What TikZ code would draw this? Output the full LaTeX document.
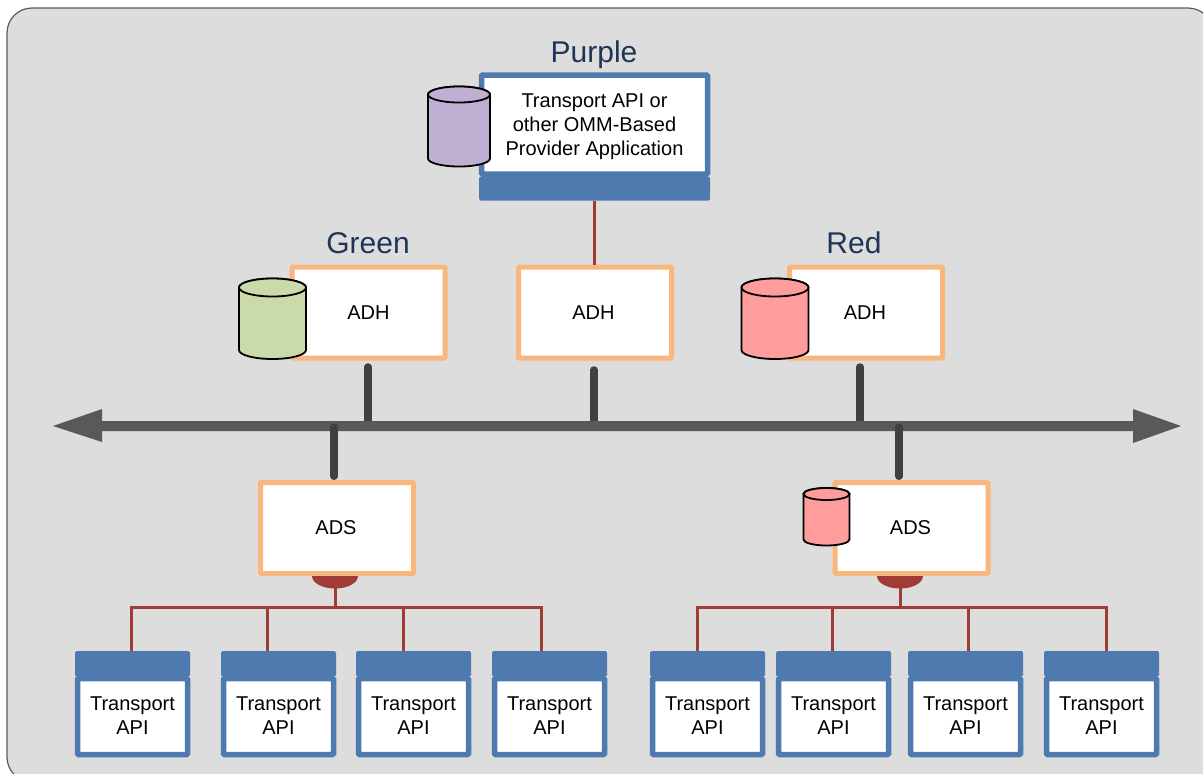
\documentclass[tikz,border=0pt]{standalone}
\usepackage{fontspec}
\setmainfont{Liberation Sans}
\definecolor{panelgray}{HTML}{DDDDDD}
\definecolor{panelline}{HTML}{5A5A5A}
\definecolor{busgray}{HTML}{595959}
\definecolor{stemgray}{HTML}{404040}
\definecolor{linkred}{HTML}{A03C35}
\definecolor{frameblue}{HTML}{4F7AAF}
\definecolor{frameorange}{HTML}{F8B77C}
\definecolor{titleblue}{HTML}{1F3558}
\definecolor{dbpurple}{HTML}{BFB0D3}
\definecolor{dbgreen}{HTML}{CBDAAB}
\definecolor{dbred}{HTML}{FF9C9C}
\tikzset{
  orangebox/.style={draw=frameorange,fill=white,line width=5pt,rounded corners=1pt,minimum width=153pt,minimum height=91pt,inner sep=0,font=\fontsize{20}{24}\selectfont},
  bluebox/.style={draw=frameblue,fill=white,line width=5.5pt,rounded corners=1pt,inner sep=0,align=center,font=\fontsize{20}{24}\selectfont},
  bluebar/.style={fill=frameblue,rounded corners=1.5pt,inner sep=0},
  title/.style={text=titleblue,font=\fontsize{30}{34}\selectfont,inner sep=0,anchor=base},
  dbcan/.style={draw=black,line width=1.8pt},
  stem/.style={draw=stemgray,line width=7.5pt,line cap=round},
  link/.style={draw=linkred,line width=3pt},
  apibox/.style={bluebox,minimum width=110pt,minimum height=76pt},
  apibar/.style={bluebar,minimum width=115pt,minimum height=25.5pt},
}
\begin{document}
\begin{tikzpicture}[x=1pt,y=-1pt]
\useasboundingbox (0,0) rectangle (1203,774);
\draw[fill=panelgray,draw=panelline,line width=1.2pt,rounded corners=25pt] (7,8) rectangle (1213,782);
\coordinate (busa) at (368,426);
\coordinate (busb) at (594,426);
\coordinate (busc) at (860,426);
\coordinate (busd) at (334,427);
\coordinate (buse) at (899,427);
% stems above the bus
\draw[stem] (busa |- 0,367) -- (busa);
\draw[stem] (busb |- 0,370) -- (busb);
\draw[stem] (busc |- 0,367) -- (busc);
% bus
\fill[busgray] (53,426) -- (102,409) -- (102,421) -- (1133,421) -- (1133,409) -- (1181,426) -- (1133,443) -- (1133,431) -- (102,431) -- (102,442) -- cycle;
% providers
\node[title] (purple) at (594,62) {Purple};
\node[title] (green) at (368,253) {Green};
\node[title] (red) at (854,253) {Red};
\node[bluebar,minimum width=231pt,minimum height=24pt] (purplebar) at (594.5,188.5) {};
\node[bluebox,minimum width=226pt,minimum height=99pt] (provider) at (594.5,124.5) {\rule{0pt}{18pt}Transport API or\\other OMM-Based\\Provider Application};
\node[orangebox] (adha) at (368.5,312.5) {ADH};
\node[orangebox] (adhb) at (595,312.5) {ADH\kern3pt};
\node[orangebox] (adhc) at (866,312.5) {ADH\kern2pt};
\node[orangebox] (adsa) at (337,528) {ADS\kern2pt};
\node[orangebox] (adsb) at (911.5,528) {ADS\kern2pt};
% databases
\foreach \lx/\rad/\ty/\by/\ry/\col in {428/31/94.5/158.5/8/dbpurple,239/33.5/287.5/350/9/dbgreen,741.5/33.5/287.5/350/9/dbred,803.5/23/494/539.5/6/dbred}{
  \draw[dbcan,fill=\col] (\lx,\ty) -- (\lx,\by) arc[start angle=180,end angle=360,x radius=\rad,y radius=-\ry] -- (\lx+2*\rad,\ty) arc[start angle=0,end angle=180,x radius=\rad,y radius=-\ry] -- cycle;
  \draw[dbcan,fill=\col] (\lx+\rad,\ty) ellipse[x radius=\rad,y radius=\ry];
}
% links
\draw[link] (purplebar.south) -- (purplebar.south |- adhb.north);
\draw[stem,shorten >=3.75pt] (busd) -- (busd |- adsa.north);
\draw[stem,shorten >=3.75pt] (buse) -- (buse |- adsb.north);
% clients
\foreach \name/\cx in {apia/132.5,apib/278.5,apic/413.5,apid/549.5,apie/707.5,apif/833.5,apig/965.5,apih/1101.5}{
  \node[apibox] (\name) at (\cx,716.5) {Transport\\API\rule[-2pt]{0pt}{2pt}};
  \node[apibar] (\name bar) at (\cx,663.75) {};
}
\coordinate (hubl) at (335,607);
\coordinate (hubr) at (900,607);
\fill[linkred] (312,576) arc[start angle=180,end angle=360,x radius=23,y radius=-12.5] -- cycle;
\fill[linkred] (877,576) arc[start angle=180,end angle=360,x radius=23,y radius=-12.5] -- cycle;
\draw[link] (hubl |- adsa.south) -- (hubl);
\draw[link] (hubr |- adsb.south) -- (hubr);
\draw[link] (131,651) |- (hubl);
\draw[link] (267,651) |- (hubl);
\draw[link] (403,651) |- (hubl);
\draw[link] (541,651) |- (hubl);
\draw[link] (697,651) |- (hubr);
\draw[link] (832,651) |- (hubr);
\draw[link] (968,651) |- (hubr);
\draw[link] (1106,651) |- (hubr);
\end{tikzpicture}
\end{document}
